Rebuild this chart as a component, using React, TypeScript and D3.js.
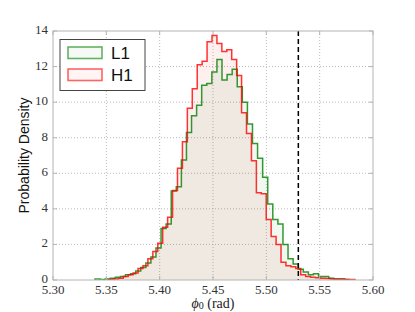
import React from "react";
import * as d3 from "d3";

// Histogram bin layout (first edge and bin width, in rad)
const L1_START = 5.3394;
const L1_WIDTH = 0.004762;
const H1_START = 5.352;
const H1_WIDTH = 0.004622;

// Probability density per bin
const L1_VALUES = [
  0.05, 0.03, 0.05, 0.1, 0.15, 0.2, 0.3, 0.35, 0.5, 0.7,
  0.95, 1.3, 1.8, 2.9, 3.15, 5.0, 5.25, 6.75, 8.3, 9.23,
  9.83, 10.95, 11.05, 11.7, 12.4, 11.25, 11.55, 11.85, 10.86, 10.0,
  8.77, 7.68, 6.84, 5.78, 4.28, 3.4, 3.15, 2.0, 1.2, 0.9,
  0.6, 0.45, 0.3, 0.35, 0.2, 0.2, 0.1, 0.05, 0.05, 0.03,
];
const H1_VALUES = [
  0.03, 0.06, 0.1, 0.2, 0.3, 0.4, 0.65, 0.8, 1.2, 1.6,
  2.07, 2.97, 3.53, 5.03, 6.28, 7.77, 9.65, 10.75, 12.1, 12.3,
  13.4, 13.75, 13.3, 12.85, 12.95, 12.4, 11.5, 9.4, 8.24, 6.7,
  4.9, 4.85, 3.4, 2.45, 2.0, 1.0, 0.8, 0.75, 0.65, 0.3,
  0.2, 0.15, 0.12, 0.1, 0.08, 0.06, 0.05, 0.05, 0.03, 0.03,
];

const X_TICKS = [5.3, 5.35, 5.4, 5.45, 5.5, 5.55, 5.6];
const Y_TICKS = [0, 2, 4, 6, 8, 10, 12, 14];
const TRUE_VALUE = 5.53;
const SERIES_NAMES = ["L1", "H1"];
const SERIES_COLORS = ["#008000", "#ff0000"];

const W = 415;
const H = 312;
const M = { left: 53, right: 373, top: 31, bottom: 280 };

export default function App() {
  const x = d3.scaleLinear().domain([5.3, 5.6]).range([M.left, M.right]);
  const y = d3.scaleLinear().domain([0, 14]).range([M.bottom, M.top]);

  const stepPoints = (start: number, width: number, vals: number[]) => {
    const pts: [number, number][] = [];
    pts.push([start, 0]);
    vals.forEach((v, i) => {
      pts.push([start + i * width, v]);
      pts.push([start + (i + 1) * width, v]);
    });
    pts.push([start + vals.length * width, 0]);
    return pts;
  };

  const line = d3
    .line<[number, number]>()
    .x((d) => x(d[0]))
    .y((d) => y(d[1]));

  const series = [
    { pts: stepPoints(L1_START, L1_WIDTH, L1_VALUES), color: SERIES_COLORS[0] },
    { pts: stepPoints(H1_START, H1_WIDTH, H1_VALUES), color: SERIES_COLORS[1] },
  ];

  const grid = "#a8a8a8";
  const frame = "#b4b4b4";
  const serif = "'Liberation Serif', 'Times New Roman', serif";
  const sans = "'Liberation Sans', Arial, sans-serif";

  return (
    <svg
      width={W}
      height={H}
      style={{ position: "absolute", left: 0, top: 0, background: "#fff" }}
    >
      <defs>
        <clipPath id="plot">
          <rect x={M.left} y={M.top} width={M.right - M.left} height={M.bottom - M.top} />
        </clipPath>
      </defs>
      <rect x={0} y={0} width={W} height={H} fill="#fff" />

      {/* grid */}
      {X_TICKS.slice(1, -1).map((t) => (
        <line key={"gx" + t} x1={x(t)} x2={x(t)} y1={M.top} y2={M.bottom}
          stroke={grid} strokeWidth={0.8} strokeDasharray="1,2" />
      ))}
      {Y_TICKS.slice(1, -1).map((t) => (
        <line key={"gy" + t} x1={M.left} x2={M.right} y1={y(t)} y2={y(t)}
          stroke={grid} strokeWidth={0.8} strokeDasharray="1,2" />
      ))}

      {/* histograms */}
      <g clipPath="url(#plot)">
        {series.map((s, i) => (
          <path key={"f" + i} d={line(s.pts) + "Z"} fill={s.color} fillOpacity={0.06} stroke="none" />
        ))}
        {series.map((s, i) => (
          <path key={"s" + i} d={line(s.pts) || ""} fill="none" stroke={s.color}
            strokeOpacity={0.8} strokeWidth={1.5} strokeLinejoin="miter" />
        ))}
        <line x1={x(TRUE_VALUE)} x2={x(TRUE_VALUE)} y1={M.top} y2={M.bottom}
          stroke="#000" strokeWidth={1.5} strokeDasharray="5,3" />
      </g>

      {/* frame */}
      <rect x={M.left} y={M.top} width={M.right - M.left} height={M.bottom - M.top}
        fill="none" stroke={frame} strokeWidth={1} />
      {X_TICKS.map((t) => (
        <g key={"xt" + t}>
          <line x1={x(t)} x2={x(t)} y1={M.bottom} y2={M.bottom - 4} stroke={frame} />
          <line x1={x(t)} x2={x(t)} y1={M.top} y2={M.top + 4} stroke={frame} />
          <text x={x(t)} y={294} textAnchor="middle" fontFamily={serif}
            fontSize={13} fill="#333">{t.toFixed(2)}</text>
        </g>
      ))}
      {Y_TICKS.map((t) => (
        <g key={"yt" + t}>
          <line x1={M.left} x2={M.left + 4} y1={y(t)} y2={y(t)} stroke={frame} />
          <line x1={M.right} x2={M.right - 4} y1={y(t)} y2={y(t)} stroke={frame} />
          <text x={48} y={y(t) - 1.5} dy="0.35em" textAnchor="end" fontFamily={serif}
            fontSize={13} fill="#333">{t}</text>
        </g>
      ))}

      {/* axis labels */}
      <text x={(M.left + M.right) / 2} y={307.5} textAnchor="middle"
        fontFamily={serif} fontSize={14} fill="#222">
        <tspan fontStyle="italic">ϕ</tspan>
        <tspan fontSize={10} dy={1.5}>0</tspan>
        <tspan dy={-1.5}> (rad)</tspan>
      </text>
      <text transform={`translate(24,${(M.top + M.bottom) / 2}) rotate(-90)`} textAnchor="middle"
        dy="0.35em" fontFamily={sans} fontSize={14} fill="#111">
        Probability Density
      </text>

      {/* legend */}
      <rect x={60} y={39.5} width={85} height={51} fill="#fff" stroke="#444" strokeWidth={1} />
      {SERIES_NAMES.map((name, i) => (
        <g key={name}>
          <rect x={68} y={47 + i * 22} width={34} height={11.5} fill={SERIES_COLORS[i]}
            fillOpacity={0.04} stroke={SERIES_COLORS[i]} strokeOpacity={0.6} strokeWidth={1.6} />
          <text x={111} y={53 + i * 22} dy="0.36em" fontFamily={sans}
            fontSize={17} fill="#111">{name}</text>
        </g>
      ))}
    </svg>
  );
}
